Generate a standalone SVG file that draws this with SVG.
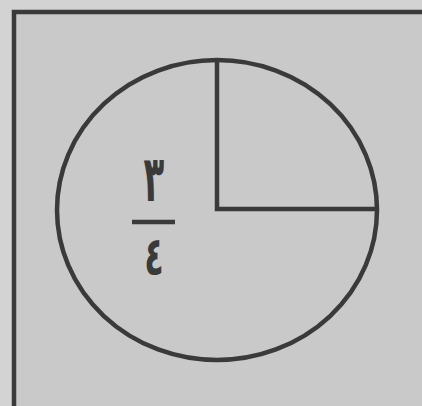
<svg xmlns="http://www.w3.org/2000/svg" width="422" height="406" viewBox="0 0 422 406">
<style>
.ln{fill:none;stroke:#3a3a3a;stroke-width:4.5;stroke-linecap:butt}
.num{font-family:"DejaVu Sans","Noto Sans",sans-serif;font-size:40px;font-weight:bold;fill:#3a3a3a;text-anchor:middle}
</style>
<rect x="0" y="0" width="422" height="406" fill="#d2d3d2"/>
<g id="frame">
<rect x="14" y="12" width="420" height="410" fill="#c8c9c8"/>
<path class="ln" d="M14 430 V12 H422" stroke-width="5"/>
</g>
<g id="circle">
<ellipse class="ln" cx="217" cy="210" rx="160" ry="150"/>
<path class="ln" d="M217 60 V209 H377"/>
</g>
<g id="fraction">
<text class="num" transform="translate(154,201) scale(0.85,1.6)">٣</text>
<line class="ln" x1="132" y1="222" x2="175" y2="222"/>
<text class="num" transform="translate(154,275) scale(0.8,1.35)">٤</text>
</g>
</svg>
